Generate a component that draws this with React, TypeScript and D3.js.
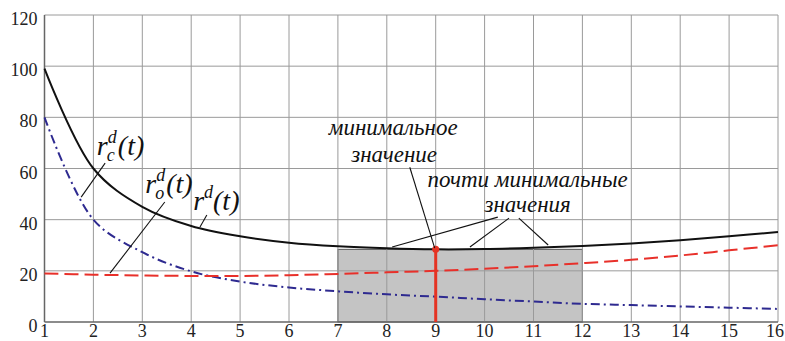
import React from 'react';
import * as d3 from 'd3';

const tValues = [1, 2, 3, 4, 5, 6, 7, 8, 9, 10, 11, 12, 13, 14, 15, 16];
const rTotal = [99, 60, 45, 37.5, 33.5, 31, 29.6, 28.8, 28.4, 28.5, 29, 29.7, 30.7, 32, 33.5, 35.2];
const rCurrent = [80, 40, 27.3, 19.8, 15.8, 13.5, 12, 10.8, 9.9, 8.9, 8, 7.1, 6.6, 6.1, 5.6, 5.1];
const rOther = [19, 18.5, 18.2, 18, 18, 18.3, 18.8, 19.4, 20, 20.8, 21.8, 23, 24.3, 26, 28, 30];
const yTicks = [0, 20, 40, 60, 80, 100, 120];
const xTicks = [1, 2, 3, 4, 5, 6, 7, 8, 9, 10, 11, 12, 13, 14, 15, 16];
const highlightRange = [7, 12];
const highlightTop = 28.4;
const minPoint = { t: 9, value: 28.4 };

const FONT = "'Liberation Serif'";
const width = 785;
const height = 341;

const x = d3.scaleLinear().domain([1, 16]).range([44.5, 778]);
const y = d3.scaleLinear().domain([0, 120]).range([322, 15]);

const line = (vals: number[]) =>
  d3.line<number>()
    .x((_, i) => x(tValues[i]))
    .y(d => y(d))
    .curve(d3.curveCatmullRom.alpha(0.5))(vals) || '';

// [t1, v1, t2, v2] in data units
const leaders = [
  [2.24, 62.1, 1.75, 48.8],
  [3.46, 46.9, 2.34, 19.1],
  [4.32, 41.8, 4.18, 37.1],
  [8.47, 60.5, 8.98, 28.9],
  [10.27, 41, 8.11, 29.3],
  [10.5, 40.6, 9.7, 29.3],
  [10.7, 40.6, 11.3, 30.1],
];

function FnLabel({ t, v, sub }: { t: number; v: number; sub?: string }) {
  const px = x(t);
  const py = y(v);
  return (
    <text x={px} y={py} fill="#111" style={{ fontFamily: FONT, fontStyle: 'italic', fontSize: '28px' }}>
      <tspan>r</tspan>
      <tspan dy={-12} style={{ fontSize: '18px' }}>d</tspan>
      {sub ? (
        <>
          <tspan x={px + 10} dy={18} style={{ fontSize: '18px' }}>{sub}</tspan>
          <tspan x={px + 21} dy={-6}>(t)</tspan>
        </>
      ) : (
        <tspan dy={12}>(t)</tspan>
      )}
    </text>
  );
}

function Note({ t, v, children }: { t: number; v: number; children: string }) {
  return (
    <text x={x(t)} y={y(v)} textAnchor="middle" fill="#111"
      style={{ fontFamily: FONT, fontStyle: 'italic', fontSize: '23px' }}>
      {children}
    </text>
  );
}

export default function App() {
  const lastTick = xTicks[xTicks.length - 1];
  return (
    <>
      <style>{'body{margin:0;background:#fff}'}</style>
      <svg width={width} height={height} style={{ display: 'block' }}>
        {/* shaded zone */}
        <rect
          x={x(highlightRange[0])}
          y={y(highlightTop)}
          width={x(highlightRange[1]) - x(highlightRange[0])}
          height={y(0) - y(highlightTop)}
          fill="#c4c4c4"
          stroke="#555"
        />

        {/* grid */}
        <g stroke="#9a9a9a" strokeWidth={1}>
          {xTicks.slice(1).map(t => (
            <line key={'v' + t} x1={x(t)} x2={x(t)} y1={y(0)} y2={y(120)} />
          ))}
          {yTicks.slice(1).map(v => (
            <line key={'h' + v} x1={x(1)} x2={x(16)} y1={y(v)} y2={y(v)} />
          ))}
        </g>
        <line x1={x(1)} x2={x(1)} y1={y(0)} y2={y(120)} stroke="#666" strokeWidth={1.5} />
        <line x1={x(1)} x2={x(16)} y1={y(0)} y2={y(0)} stroke="#666" strokeWidth={1.5} />

        {/* tick labels */}
        <g fill="#222" style={{ fontFamily: FONT, fontSize: '18px' }}>
          {yTicks.map(v => (
            <text key={'yl' + v} x={x(1) - 7} y={y(v) + 10} textAnchor="end">{v}</text>
          ))}
          {xTicks.map(t => (
            t === lastTick
              ? <text key={'xl' + t} x={width - 1} y={337} textAnchor="end">{t}</text>
              : <text key={'xl' + t} x={x(t)} y={337} textAnchor="middle">{t}</text>
          ))}
        </g>

        {/* curves */}
        <path d={line(rCurrent)} fill="none" stroke="#2e2a90" strokeWidth={2} strokeDasharray="9 4 2 4" />
        <path d={line(rOther)} fill="none" stroke="#e8302a" strokeWidth={2} strokeDasharray="14 6" />
        <path d={line(rTotal)} fill="none" stroke="#111" strokeWidth={2} />

        {/* minimum */}
        <line x1={x(minPoint.t)} x2={x(minPoint.t)} y1={y(0)} y2={y(minPoint.value)} stroke="#e53323" strokeWidth={3} />
        <circle cx={x(minPoint.t)} cy={y(minPoint.value)} r={3.5} fill="#e53323" />

        {/* leaders */}
        <g stroke="#111" strokeWidth={1.1}>
          {leaders.map((d, i) => (
            <line key={i} x1={x(d[0])} y1={y(d[1])} x2={x(d[2])} y2={y(d[3])} />
          ))}
        </g>

        <FnLabel t={2.07} v={65.2} sub="c" />
        <FnLabel t={3.06} v={50.4} sub="o" />
        <FnLabel t={4.04} v={43.75} />

        <Note t={8.13} v={73}>минимальное</Note>
        <Note t={8.15} v={62.5}>значение</Note>
        <Note t={10.88} v={52.7}>почти минимальные</Note>
        <Note t={10.88} v={43}>значения</Note>
      </svg>
    </>
  );
}
